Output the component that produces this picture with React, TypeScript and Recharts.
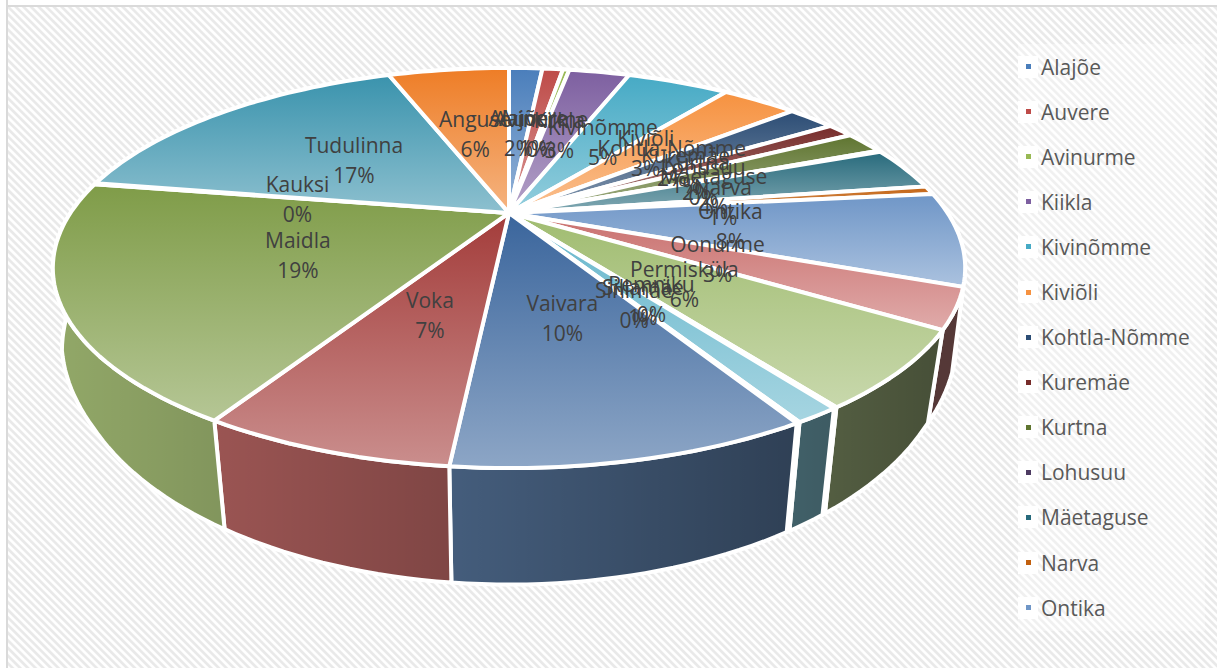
import { Legend, Pie, PieChart } from "recharts";

const NAMES = [
  "Alajõe", "Auvere", "Avinurme", "Kiikla", "Kivinõmme", "Kiviõli", "Kohtla-Nõmme", "Kuremäe",
  "Kurtna", "Lohusuu", "Mäetaguse", "Narva", "Ontika", "Oonurme", "Permisküla", "Remniku",
  "Sillamäe", "Sinimäe", "Vaivara", "Voka", "Maidla", "Kauksi", "Tudulinna", "Anguse",
];
const VALUES = [
  1.55, 0.95, 0.3, 2.8, 4.7, 3.45, 2.15, 1.2, 1.85, 0.1, 3.55, 0.7, 7.55, 3.2, 6.1, 0.1, 1.3, 0.1,
  9.9, 7.0, 19.0, 0.1, 16.7, 5.6,
];
const COLORS = [
  "#4a7ebb", "#be4b48", "#98b954", "#7d5fa0", "#46aac5", "#f69240", "#2c4d75", "#772c2a",
  "#5f7530", "#4d3b62", "#276a7c", "#c2600e", "#6f96c7", "#c96f6d", "#a0bc70", "#9581b0",
  "#66b6cc", "#f7a768", "#3a659c", "#a33c3a", "#7f9c48", "#604a7b", "#3a93ad", "#ee7d26",
];
const LEGEND_COUNT = 13;

const rows = NAMES.map((name, idx) => ({ name, idx, value: VALUES[idx], fill: COLORS[idx] }));

// perspective of the tilted disc
const TILT = 0.275;
const SQUASH = 0.4216;

function project(cx: number, cy: number, r: number, angle: number, f = 1) {
  const rad = (angle * Math.PI) / 180;
  const u = Math.cos(rad) * f;
  const v = -Math.sin(rad) * f;
  const d = 1 - TILT * v;
  return { x: cx + (r * u) / d, y: cy + (r * SQUASH * v) / d };
}

// rim point moved down to the bottom edge of the wall
function drop(cx: number, p: { x: number; y: number }) {
  const t = Math.min(1, Math.max(0, (335 - p.y) / 67));
  return { x: cx + (p.x - cx) * (0.965 + 0.015 * t), y: p.y + 116 - (465 - p.y) * 0.17 };
}

function arcPoints(cx: number, cy: number, r: number, start: number, end: number) {
  const n = Math.max(2, Math.ceil(Math.abs(start - end) / 1.5));
  const pts = [];
  for (let i = 0; i <= n; i++) pts.push(project(cx, cy, r, start + ((end - start) * i) / n));
  return pts;
}

const toPath = (pts: { x: number; y: number }[]) =>
  pts.map((p, i) => `${i ? "L" : "M"}${p.x.toFixed(1)} ${p.y.toFixed(1)}`).join(" ");

function TopSector(props: any) {
  const { cx, cy, outerRadius, startAngle, endAngle, payload } = props;
  const pts = arcPoints(cx, cy, outerRadius, startAngle, endAngle);
  return (
    <path
      d={`${toPath([{ x: cx, y: cy }, ...pts])} Z`}
      fill={`url(#top-${payload.idx})`}
      stroke="#fff"
      strokeWidth={4}
      strokeLinejoin="round"
    />
  );
}

function WallSector(props: any) {
  const { cx, cy, outerRadius, startAngle, endAngle, payload } = props;
  const pts = arcPoints(cx, cy, outerRadius, startAngle, endAngle);
  const low = pts.map((p) => drop(cx, p)).reverse();
  const d = `${toPath([...pts, ...low])} Z`;
  return (
    <g>
      <path d={d} fill={mix(COLORS[payload.idx], "#ffffff", 0.2)} />
      <path d={d} fill="url(#wallShade)" stroke="#fff" strokeWidth={4} strokeLinejoin="round" />
    </g>
  );
}

function mix(a: string, b: string, t: number) {
  const ch = (s: string, i: number) => parseInt(s.slice(1 + i * 2, 3 + i * 2), 16);
  const out = [0, 1, 2].map((i) => Math.round(ch(a, i) * (1 - t) + ch(b, i) * t));
  return `rgb(${out.join(",")})`;
}

function renderLabel(props: any) {
  const { cx, cy, outerRadius, midAngle, percent, name } = props;
  const p = project(cx, cy, outerRadius, midAngle, 0.5);
  return (
    <text textAnchor="middle" fill="#404040" fontSize={21} fontFamily="'Open Sans', sans-serif">
      <tspan x={p.x} y={p.y - 6}>{name}</tspan>
      <tspan x={p.x} y={p.y + 24}>{`${Math.round(percent * 100)}%`}</tspan>
    </text>
  );
}

function renderLegend({ payload }: any) {
  const seen = new Set();
  const items = (payload ?? []).filter((item: any) => {
    if (seen.has(item.value)) return false;
    seen.add(item.value);
    return true;
  });
  return (
    <div style={{ background: "rgba(255,255,255,0.35)", height: 587 }}>
      {items.slice(0, LEGEND_COUNT).map((item: any) => (
        <div
          key={item.value}
          style={{ height: 45.1, display: "flex", alignItems: "center", color: "#595959", fontSize: 21 }}
        >
          <span style={{ width: 20, height: 22, background: "#fff", display: "flex", alignItems: "center", justifyContent: "center" }}>
            <span style={{ width: 5, height: 5, background: item.color }} />
          </span>
          <span style={{ marginLeft: 3 }}>{item.value}</span>
        </div>
      ))}
    </div>
  );
}

export default function App() {
  return (
    <div
      style={{
        position: "absolute",
        left: 0,
        top: 0,
        width: 1217,
        height: 668,
        overflow: "hidden",
        fontFamily: "'Open Sans', sans-serif",
        background:
          "repeating-linear-gradient(45deg, #fff 0, #fff 1.6px, #e9e9e9 2.7px, #e9e9e9 4.3px, #fff 5.4px)",
      }}
    >
      <div style={{ position: "absolute", left: 0, top: 0, width: 1217, height: 5, background: "#fff", borderBottom: "2px solid #dadada" }} />
      <div style={{ position: "absolute", left: 0, top: 0, width: 6, height: 668, background: "#fff", borderRight: "2px solid #dadada" }} />
      <PieChart width={1217} height={668} margin={{ top: 0, right: 0, bottom: 0, left: 0 }} style={{ position: "absolute", left: 0, top: 0 }}>
        <defs>
          <linearGradient id="wallShade" gradientUnits="userSpaceOnUse" x1={60} x2={930} y1={0} y2={0}>
            <stop offset="0" stopColor="#000" stopOpacity={0.05} />
            <stop offset="1" stopColor="#000" stopOpacity={0.6} />
          </linearGradient>
          {COLORS.map((c, i) => (
            <linearGradient key={i} id={`top-${i}`} x1="0" x2="0" y1="0" y2="1">
              <stop offset="0" stopColor={c} />
              <stop offset="1" stopColor={mix(c, "#ffffff", 0.42)} />
            </linearGradient>
          ))}
        </defs>
        <Pie
          data={rows}
          dataKey="value"
          nameKey="name"
          cx={509}
          cy={213}
          outerRadius={438.6}
          startAngle={90}
          endAngle={-270}
          shape={WallSector}
          legendType="none"
          label={false}
          labelLine={false}
          isAnimationActive={false}
        />
        <Pie
          data={rows}
          dataKey="value"
          nameKey="name"
          cx={509}
          cy={213}
          outerRadius={438.6}
          startAngle={90}
          endAngle={-270}
          shape={TopSector}
          label={renderLabel}
          labelLine={false}
          isAnimationActive={false}
        />
        <Legend
          layout="vertical"
          align="right"
          verticalAlign="top"
          itemSorter={null}
          content={renderLegend}
          wrapperStyle={{ left: 1018, top: 44, width: 187 }}
        />
      </PieChart>
    </div>
  );
}
